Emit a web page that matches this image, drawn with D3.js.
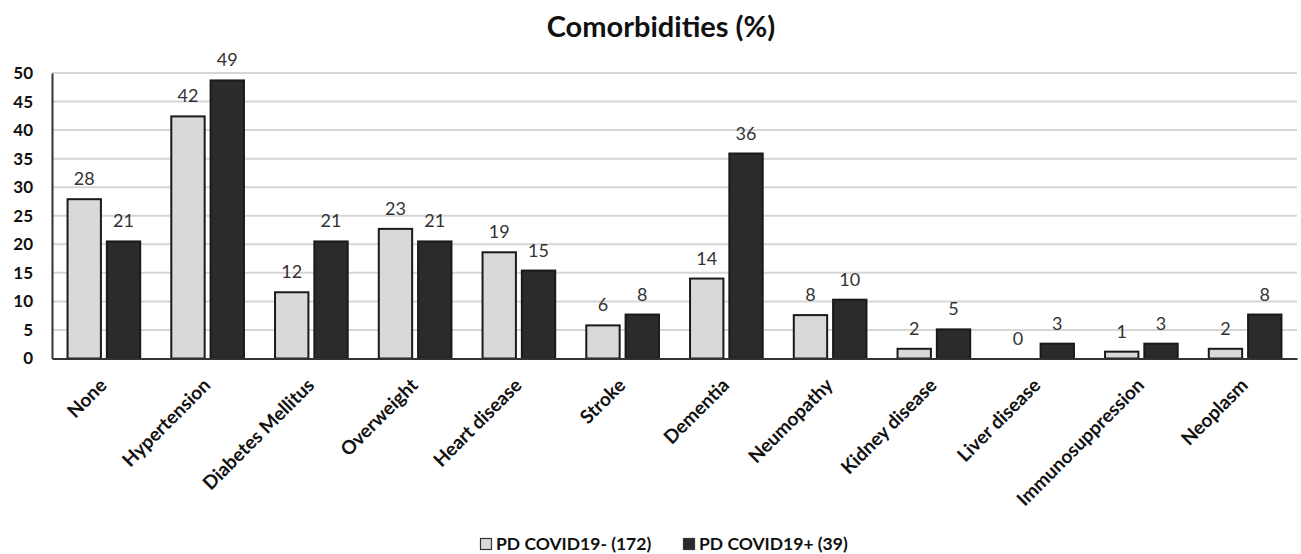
<!DOCTYPE html>
<html>
<head>
<meta charset="utf-8">
<script src="https://cdn.jsdelivr.net/npm/d3@7/dist/d3.min.js"></script>
<style>
  html, body { margin: 0; padding: 0; background: #fff; }
  svg { display: block; }
  text { font-family: Lato, "Open Sans", sans-serif; }
</style>
</head>
<body>
<svg id="chart" width="1301" height="554"></svg>
<script>
// Comorbidity prevalence (%) in PD patients by COVID-19 status
const categories = ["None", "Hypertension", "Diabetes Mellitus", "Overweight", "Heart disease",
  "Stroke", "Dementia", "Neumopathy", "Kidney disease", "Liver disease", "Immunosuppression", "Neoplasm"];
const covidNeg = [27.9, 42.4, 11.6, 22.7, 18.6, 5.8, 14.0, 7.6, 1.7, 0, 1.2, 1.7];
const covidPos = [20.5, 48.7, 20.5, 20.5, 15.4, 7.7, 35.9, 10.3, 5.1, 2.6, 2.6, 7.7];
const seriesNames = ["PD COVID19- (172)", "PD COVID19+ (39)"];
const yTicks = [0, 5, 10, 15, 20, 25, 30, 35, 40, 45, 50];

const svg = d3.select("#chart");
const W = 1301;
const x0 = 52, x1 = W - 4;
const y0 = 358.5, y1 = 73;

const x = d3.scaleBand().domain(categories).range([x0, x1]).paddingInner(0).paddingOuter(0);
const xs = d3.scaleBand().domain([0, 1]).range([0, x.bandwidth()]).paddingInner(0.1).paddingOuter(0.37);
const y = d3.scaleLinear().domain([0, 50]).range([y0, y1]);

const fills = ["#d9d9d9", "#2b2b2b"];
const series = [covidNeg, covidPos];

// title
svg.append("text")
  .attr("x", 661).attr("y", 37)
  .attr("text-anchor", "middle")
  .attr("font-size", 29).attr("font-weight", "bold").attr("fill", "#111")
  .text("Comorbidities (%)");

// gridlines
svg.append("g")
  .selectAll("line").data(yTicks.filter(d => d > 0)).join("line")
  .attr("x1", x0).attr("x2", x1)
  .attr("y1", d => y(d)).attr("y2", d => y(d))
  .attr("stroke", "#d6d6d6").attr("stroke-width", 2);

// y axis
const yAxis = svg.append("g")
  .attr("transform", `translate(${x0},0)`)
  .call(d3.axisLeft(y).tickValues(yTicks).tickSize(0).tickPadding(19));
yAxis.select(".domain").attr("stroke", "#333").attr("stroke-width", 2);
yAxis.selectAll("text")
  .attr("font-size", 17).attr("font-weight", "bold").attr("fill", "#111")
  .style("font-family", "Lato, 'Open Sans', sans-serif");

// bars and value labels
const groups = svg.append("g").selectAll("g").data(categories).join("g")
  .attr("transform", d => `translate(${x(d)},0)`);

groups.each(function (cat, i) {
  const g = d3.select(this);
  series.forEach((vals, s) => {
    const v = vals[i];
    if (v > 0) {
      g.append("rect")
        .attr("x", xs(s) + 1).attr("width", xs.bandwidth() - 2)
        .attr("y", y(v)).attr("height", y0 - y(v))
        .attr("fill", fills[s]).attr("stroke", "#1a1a1a").attr("stroke-width", 2);
    }
    g.append("text")
      .attr("x", xs(s) + xs.bandwidth() / 2)
      .attr("y", y(v) - 14)
      .attr("text-anchor", "middle")
      .attr("font-size", 18).attr("fill", "#333")
      .text(d3.format(".0f")(v));
  });
});

// x axis
const xAxis = svg.append("g")
  .attr("transform", `translate(0,${y0})`)
  .call(d3.axisBottom(x).tickSize(0).tickPadding(0));
xAxis.select(".domain").attr("stroke", "#333").attr("stroke-width", 2);
xAxis.selectAll("text")
  .attr("font-size", 19).attr("font-weight", "bold").attr("fill", "#111")
  .style("font-family", "Lato, 'Open Sans', sans-serif")
  .attr("text-anchor", "end")
  .attr("dy", "0")
  .attr("transform", "translate(4,28) rotate(-45)");

// legend
const legendItems = [{ x: 480, name: seriesNames[0], fill: fills[0] }, { x: 683, name: seriesNames[1], fill: fills[1] }];
const legend = svg.append("g").selectAll("g").data(legendItems).join("g")
  .attr("transform", d => `translate(${d.x},538)`);
legend.append("rect")
  .attr("x", 0.5).attr("y", 0.5).attr("width", 11).attr("height", 11)
  .attr("fill", d => d.fill).attr("stroke", "#333").attr("stroke-width", 1.2);
legend.append("text")
  .attr("x", 16).attr("y", 12)
  .attr("font-size", 17.5).attr("font-weight", "bold").attr("fill", "#111")
  .text(d => d.name);
</script>
</body>
</html>
